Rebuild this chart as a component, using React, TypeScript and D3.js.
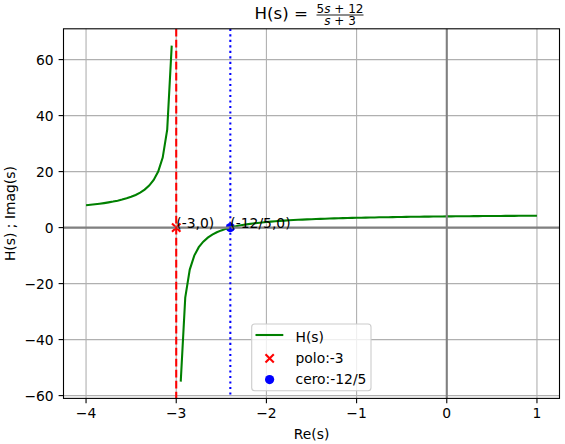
import * as d3 from "d3";

// curve samples of H(s) (gap at the pole s = -3)
const leftRe = [-4, -3.95, -3.9, -3.85, -3.8, -3.75, -3.7, -3.65, -3.6, -3.55, -3.5, -3.45, -3.4, -3.35, -3.3, -3.25, -3.2, -3.15, -3.1, -3.05];
const leftH = [8, 8.158, 8.333, 8.529, 8.75, 9, 9.286, 9.615, 10, 10.455, 11, 11.667, 12.5, 13.571, 15, 17, 20, 25, 35, 65];

const rightRe = [
  -2.95, -2.9, -2.85, -2.8, -2.75, -2.7, -2.65, -2.6, -2.55, -2.5, -2.45, -2.4, -2.35, -2.3, -2.25, -2.2, -2.15, -2.1, -2.05, -2,
  -1.95, -1.9, -1.85, -1.8, -1.75, -1.7, -1.65, -1.6, -1.55, -1.5, -1.45, -1.4, -1.35, -1.3, -1.25, -1.2, -1.15, -1.1, -1.05, -1,
  -0.95, -0.9, -0.85, -0.8, -0.75, -0.7, -0.65, -0.6, -0.55, -0.5, -0.45, -0.4, -0.35, -0.3, -0.25, -0.2, -0.15, -0.1, -0.05, 0,
  0.05, 0.1, 0.15, 0.2, 0.25, 0.3, 0.35, 0.4, 0.45, 0.5, 0.55, 0.6, 0.65, 0.7, 0.75, 0.8, 0.85, 0.9, 0.95, 1,
];
const rightH = [
  -55, -25, -15, -10, -7, -5, -3.571, -2.5, -1.667, -1, -0.455, 0, 0.385, 0.714, 1, 1.25, 1.471, 1.667, 1.842, 2,
  2.143, 2.273, 2.391, 2.5, 2.6, 2.692, 2.778, 2.857, 2.931, 3, 3.065, 3.125, 3.182, 3.235, 3.286, 3.333, 3.378, 3.421, 3.462, 3.5,
  3.537, 3.571, 3.605, 3.636, 3.667, 3.696, 3.723, 3.75, 3.776, 3.8, 3.824, 3.846, 3.868, 3.889, 3.909, 3.929, 3.947, 3.966, 3.983, 4,
  4.016, 4.032, 4.048, 4.063, 4.077, 4.091, 4.104, 4.118, 4.13, 4.143, 4.155, 4.167, 4.178, 4.189, 4.2, 4.211, 4.221, 4.231, 4.241, 4.25,
];

const poles = [-3];
const zeros = [-2.4];
const poleLabels = ["(-3,0)"];
const zeroLabels = ["(-12/5,0)"];

const xTicks = [-4, -3, -2, -1, 0, 1];
const yTicks = [-60, -40, -20, 0, 20, 40, 60];

const legendLabels = ["H(s)", "polo:-3", "cero:-12/5"];

const W = 565;
const H = 444;
const m = { left: 63.5, right: 559.5, top: 28.8, bottom: 398.4 };
const FONT = "'DejaVu Sans', sans-serif";
const fmt = (v: number) => (v < 0 ? "\u2212" + Math.abs(v) : String(v));

export default function App() {
  const x = d3.scaleLinear().domain([-4.25, 1.25]).range([m.left, m.right]);
  const y = d3.scaleLinear().domain([-61, 71]).range([m.bottom, m.top]);

  const line = d3.line<[number, number]>().x(d => x(d[0])).y(d => y(d[1]));
  const left = leftRe.map((r, i) => [r, leftH[i]] as [number, number]);
  const right = rightRe.map((r, i) => [r, rightH[i]] as [number, number]);

  const cx = (m.left + m.right) / 2;

  return (
    <svg width={W} height={H} style={{ position: "absolute", left: 0, top: 0, background: "#fff" }} fontFamily={FONT}>
      <defs>
        <clipPath id="plotArea">
          <rect x={m.left} y={m.top} width={m.right - m.left} height={m.bottom - m.top} />
        </clipPath>
      </defs>

      {/* Title with fraction */}
      <text x={308} y={19.3} fontSize={16.67} textAnchor="end">H(s) =</text>
      <text x={340} y={12.5} fontSize={12} textAnchor="middle">
        5<tspan fontStyle="italic">s</tspan> + 12
      </text>
      <line x1={316.5} x2={363.5} y1={15} y2={15} stroke="#000" strokeWidth={0.9} />
      <text x={340} y={25} fontSize={12} textAnchor="middle">
        <tspan fontStyle="italic">s</tspan> + 3
      </text>

      {/* Grid */}
      <g stroke="#b0b0b0" strokeWidth={1.1}>
        {xTicks.map(t => <line key={"gx" + t} x1={x(t)} x2={x(t)} y1={m.top} y2={m.bottom} />)}
        {yTicks.map(t => <line key={"gy" + t} x1={m.left} x2={m.right} y1={y(t)} y2={y(t)} />)}
      </g>

      <g clipPath="url(#plotArea)">
        {/* scatter markers */}
        {poles.map(p => {
          const px = x(p), py = y(0), s = 4.2;
          return (
            <g key={"p" + p} stroke="red" strokeWidth={2.08}>
              <line x1={px - s} y1={py - s} x2={px + s} y2={py + s} />
              <line x1={px - s} y1={py + s} x2={px + s} y2={py - s} />
            </g>
          );
        })}
        {zeros.map(z => <circle key={"z" + z} cx={x(z)} cy={y(0)} r={4.6} fill="blue" />)}

        {/* H(s) */}
        <path d={line(left) ?? ""} fill="none" stroke="green" strokeWidth={2.08} />
        <path d={line(right) ?? ""} fill="none" stroke="green" strokeWidth={2.08} />

        {/* axes through origin */}
        <line x1={m.left} x2={m.right} y1={y(0)} y2={y(0)} stroke="gray" strokeWidth={2.08} />
        <line x1={x(0)} x2={x(0)} y1={m.top} y2={m.bottom} stroke="gray" strokeWidth={2.08} />

        {/* pole / zero lines */}
        {poles.map(p => (
          <line key={"pl" + p} x1={x(p)} x2={x(p)} y1={m.top} y2={m.bottom} stroke="red" strokeWidth={2.08} strokeDasharray="7.7,3.3" />
        ))}
        {zeros.map(z => (
          <line key={"zl" + z} x1={x(z)} x2={x(z)} y1={m.top} y2={m.bottom} stroke="blue" strokeWidth={2.08} strokeDasharray="2.08,3.43" />
        ))}
      </g>

      {/* annotations */}
      {poles.map((p, i) => <text key={"pt" + p} x={x(p)} y={y(0)} fontSize={13.89}>{poleLabels[i]}</text>)}
      {zeros.map((z, i) => <text key={"zt" + z} x={x(z)} y={y(0)} fontSize={13.89}>{zeroLabels[i]}</text>)}

      {/* spines */}
      <rect x={m.left} y={m.top} width={m.right - m.left} height={m.bottom - m.top} fill="none" stroke="#000" strokeWidth={1.1} />

      {/* ticks */}
      <g fontSize={13.89} fill="#000">
        {xTicks.map(t => (
          <g key={"xt" + t}>
            <line x1={x(t)} x2={x(t)} y1={m.bottom} y2={m.bottom + 4.9} stroke="#000" strokeWidth={1.1} />
            <text x={x(t)} y={418.3} textAnchor="middle">{fmt(t)}</text>
          </g>
        ))}
        {yTicks.map(t => (
          <g key={"yt" + t}>
            <line x1={m.left - 4.9} x2={m.left} y1={y(t)} y2={y(t)} stroke="#000" strokeWidth={1.1} />
            <text x={m.left - 9.8} y={y(t)} dy="0.36em" textAnchor="end">{fmt(t)}</text>
          </g>
        ))}
      </g>

      {/* axis labels */}
      <text x={cx} y={438.5} fontSize={13.89} textAnchor="middle">Re(s)</text>
      <text transform={`translate(14.5,${(m.top + m.bottom) / 2}) rotate(-90)`} fontSize={13.89} textAnchor="middle">H(s) ; Imag(s)</text>

      {/* legend */}
      <g>
        <rect x={251.7} y={324} width={119.3} height={66.7} rx={3} fill="#fff" fillOpacity={0.8} stroke="#cccccc" strokeWidth={1.1} />
        <line x1={255.5} x2={283.3} y1={335} y2={335} stroke="green" strokeWidth={2.08} />
        <g stroke="red" strokeWidth={2.08}>
          <line x1={265.5} y1={354.3} x2={273.8} y2={362.6} />
          <line x1={265.5} y1={362.6} x2={273.8} y2={354.3} />
        </g>
        <circle cx={269.6} cy={379.6} r={4.6} fill="blue" />
        {legendLabels.map((l, i) => (
          <text key={l} x={295.5} y={[336.5, 358, 379][i]} dy="0.36em" fontSize={13.89}>{l}</text>
        ))}
      </g>
    </svg>
  );
}
